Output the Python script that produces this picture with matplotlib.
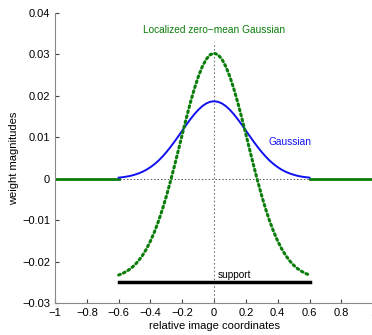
import numpy as np
import matplotlib.pyplot as plt

plt.rcParams['font.family'] = ['Liberation Sans', 'DejaVu Sans']

# sample positions inside the support
x_support = [-0.6, -0.575, -0.55, -0.525, -0.5, -0.475, -0.45, -0.425, -0.4, -0.375,
             -0.35, -0.325, -0.3, -0.275, -0.25, -0.225, -0.2, -0.175, -0.15, -0.125,
             -0.1, -0.075, -0.05, -0.025, 0.0, 0.025, 0.05, 0.075, 0.1, 0.125,
             0.15, 0.175, 0.2, 0.225, 0.25, 0.275, 0.3, 0.325, 0.35, 0.375,
             0.4, 0.425, 0.45, 0.475, 0.5, 0.525, 0.55, 0.575, 0.6]

gaussian = [0.00026, 0.00037, 0.00051, 0.00070, 0.00096, 0.00128, 0.00168, 0.00218, 0.00279, 0.00351,
            0.00435, 0.00532, 0.00641, 0.00761, 0.00889, 0.01024, 0.01162, 0.01299, 0.01431, 0.01553,
            0.01660, 0.01749, 0.01815, 0.01856, 0.0187, 0.01856, 0.01815, 0.01749, 0.01660, 0.01553,
            0.01431, 0.01299, 0.01162, 0.01024, 0.00889, 0.00761, 0.00641, 0.00532, 0.00435, 0.00351,
            0.00279, 0.00218, 0.00168, 0.00128, 0.00096, 0.00070, 0.00051, 0.00037, 0.00026]

localized = [-0.02324, -0.02286, -0.02235, -0.02170, -0.02086, -0.01980, -0.01850, -0.01693, -0.01504, -0.01283,
             -0.01028, -0.00740, -0.00420, -0.00072, 0.00297, 0.00682, 0.01071, 0.01456, 0.01823, 0.02160,
             0.02456, 0.02699, 0.02881, 0.02992, 0.0303, 0.02992, 0.02881, 0.02699, 0.02456, 0.02160,
             0.01823, 0.01456, 0.01071, 0.00682, 0.00297, -0.00072, -0.00420, -0.00740, -0.01028, -0.01283,
             -0.01504, -0.01693, -0.01850, -0.01980, -0.02086, -0.02170, -0.02235, -0.02286, -0.02324]

# zero weight outside the support
x_left = [-1.0, -0.6]
x_right = [0.6, 1.0]
zeros_out = [0.0, 0.0]

support_x = [-0.6, 0.6]
support_y = [-0.025, -0.025]

xticks = [-1, -0.8, -0.6, -0.4, -0.2, 0, 0.2, 0.4, 0.6, 0.8, 1]
xticklabels = ['\u22121', '\u22120.8', '\u22120.6', '\u22120.4', '\u22120.2', '0',
               '0.2', '0.4', '0.6', '0.8', '1']
yticks = [-0.03, -0.02, -0.01, 0, 0.01, 0.02, 0.03, 0.04]
yticklabels = ['\u22120.03', '\u22120.02', '\u22120.01', '0', '0.01', '0.02', '0.03', '0.04']

green = '#0a7d0a'
blue = '#1010f0'

fig = plt.figure(figsize=(3.72, 3.35), dpi=100)
ax = fig.add_axes([0.148, 0.0955, 0.855, 0.8657])

# reference lines
ax.plot([-1, 1], [0, 0], color='#555555', lw=0.7, ls=(0, (1.5, 2)))
ax.plot([0, 0], [-0.03, 0.033], color='#777777', lw=0.8, ls=(0, (1.5, 2)))

ax.plot(x_left, zeros_out, color=green, lw=2)
ax.plot(x_right, zeros_out, color=green, lw=2)
ax.plot(x_support, gaussian, color=blue, lw=1.4)
ax.plot(x_support, localized, color=green, lw=2.2, ls=(0, (0.6, 1.1)),
        dash_capstyle='round')

ax.plot(support_x, support_y, color='black', lw=2.5)
ax.text(0.02, -0.0232, 'support', fontsize=7.3, ha='left', va='center')
ax.text(0, 0.0359, 'Localized zero\u2212mean Gaussian', color=green,
        fontsize=7.3, ha='center', va='center')
ax.text(0.34, 0.0088, 'Gaussian', color=blue, fontsize=7.3, ha='left', va='center')

ax.set_xlim(-1, 1)
ax.set_ylim(-0.03, 0.04)
ax.set_xticks(xticks)
ax.set_xticklabels(xticklabels)
ax.set_yticks(yticks)
ax.set_yticklabels(yticklabels)
ax.tick_params(direction='in', length=3, labelsize=8, color='#444444')
ax.spines['top'].set_visible(False)
ax.spines['right'].set_visible(False)
ax.spines['left'].set_color('#888888')
ax.spines['bottom'].set_color('#888888')
ax.set_xlabel('relative image coordinates', fontsize=8, labelpad=2)
ax.set_ylabel('weight magnitudes', fontsize=8, labelpad=2)

fig.savefig('out.png', dpi=100)
